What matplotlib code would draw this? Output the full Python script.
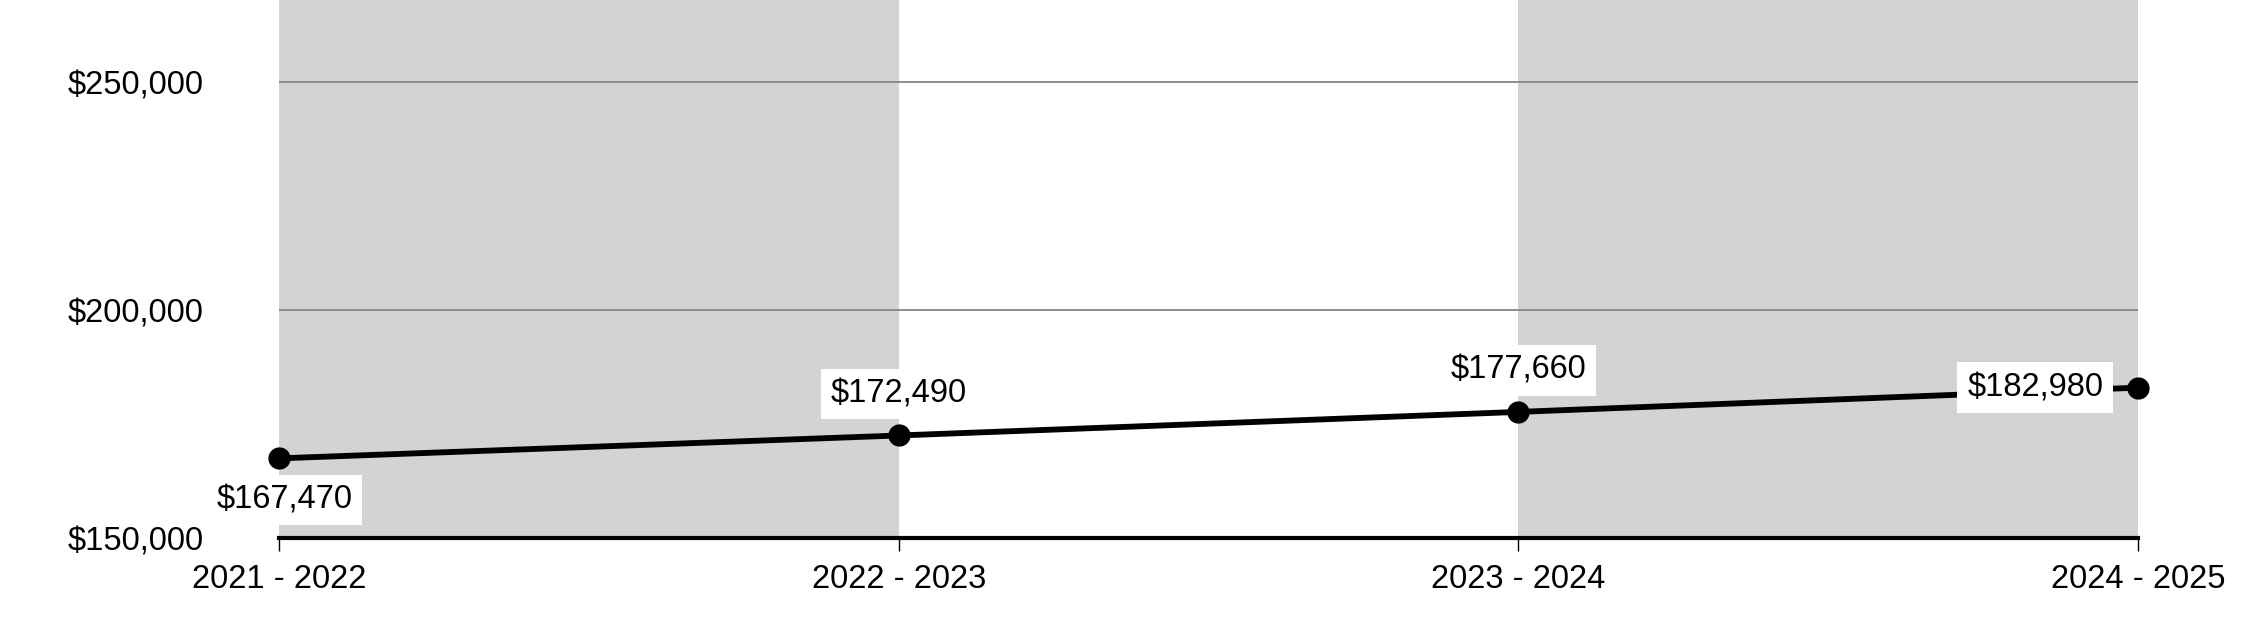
import matplotlib
matplotlib.use("Agg")
import matplotlib.pyplot as plt
from matplotlib.ticker import FuncFormatter

years = ["2021 - 2022", "2022 - 2023", "2023 - 2024", "2024 - 2025"]
values = [167470, 172490, 177660, 182980]
y_ticks = [150000, 200000, 250000]
# label offsets in points (dx, dy) for each data label
label_offsets = [(4, -30), (0, 30), (0, 30), (-74, 0)]

plt.rcParams['font.family'] = ['Liberation Sans', 'DejaVu Sans']

fig = plt.figure(figsize=(22.5, 6.22), dpi=100)
ax = fig.add_axes([0.124, 0.135, 0.9502 - 0.124, 0.865])

x = list(range(len(years)))

# alternating gray bands
for i in range(len(years) - 1):
    if i % 2 == 0:
        ax.axvspan(i, i + 1, color='#d3d3d3', zorder=0, lw=0)

for t in y_ticks[1:]:
    ax.axhline(t, color='#8c8c8c', lw=1.4, zorder=1)

ax.plot(x, values, color='black', lw=4.2, marker='o', markersize=15, zorder=3,
        clip_on=False)

for xi, v, (dx, dy) in zip(x, values, label_offsets):
    ax.annotate(f"${v:,}", (xi, v), xytext=(dx, dy), textcoords='offset points',
                ha='center', va='center', fontsize=23.5, zorder=4,
                bbox=dict(boxstyle='square,pad=0.3', fc='white', ec='none'))

ax.set_xlim(0, len(years) - 1)
ax.set_ylim(150000, 268000)
ax.set_xticks(x)
ax.set_xticklabels(years)
ax.set_yticks(y_ticks)
ax.yaxis.set_major_formatter(FuncFormatter(lambda v, p: f"${int(v):,}"))

for s in ['top', 'right', 'left']:
    ax.spines[s].set_visible(False)
ax.spines['bottom'].set_linewidth(3)
ax.spines['bottom'].set_zorder(5)
ax.tick_params(axis='x', length=9, width=1, labelsize=23.5, pad=10)
ax.tick_params(axis='y', length=0, labelsize=23.5, pad=54)

fig.savefig("out.png", dpi=100, facecolor='white')
